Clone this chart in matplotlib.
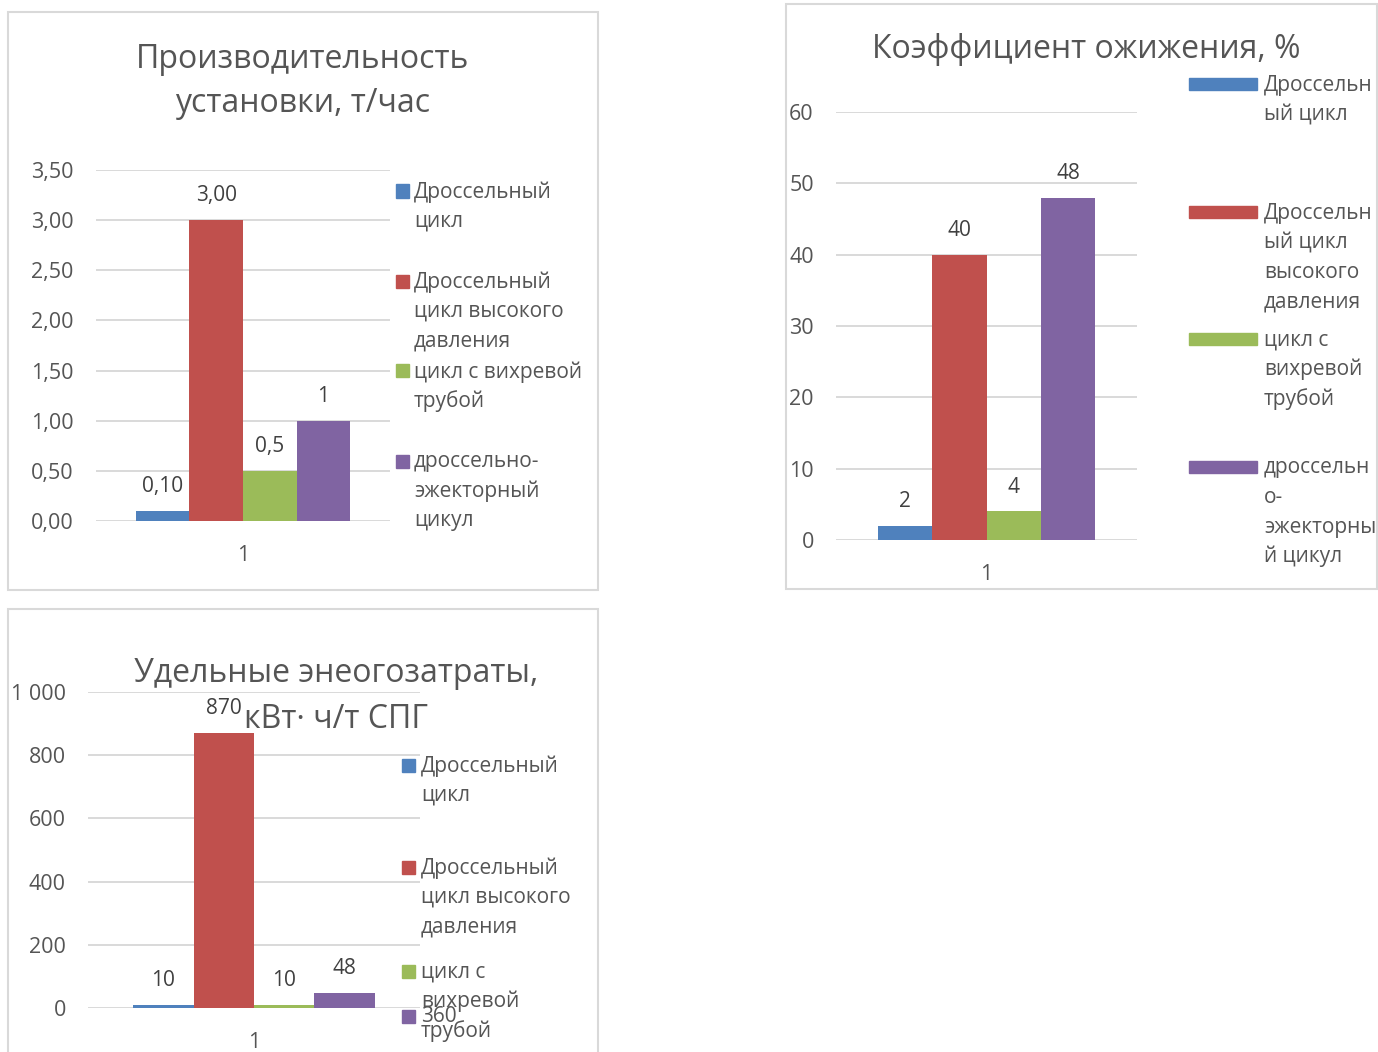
import numpy as np
import matplotlib
matplotlib.use('Agg')
import matplotlib.pyplot as plt
from matplotlib.patches import Rectangle

plt.rcParams['font.family'] = ['Open Sans', 'DejaVu Sans']

W, H = 1378, 1052

# Data
colors = ['#4F81BD', '#C0504D', '#9BBB59', '#8064A2']

prod_values = [0.10, 3.00, 0.5, 1]
prod_labels = ['0,10', '3,00', '0,5', '1']
prod_ticks = [0, 0.5, 1.0, 1.5, 2.0, 2.5, 3.0, 3.5]
prod_ticklabels = ['0,00', '0,50', '1,00', '1,50', '2,00', '2,50', '3,00', '3,50']
prod_legend = ['Дроссельный\nцикл', 'Дроссельный\nцикл высокого\nдавления',
               'цикл с вихревой\nтрубой', 'дроссельно-\nэжекторный\nцикул']

liq_values = [2, 40, 4, 48]
liq_labels = ['2', '40', '4', '48']
liq_ticks = [0, 10, 20, 30, 40, 50, 60]
liq_ticklabels = ['0', '10', '20', '30', '40', '50', '60']
liq_legend = ['Дроссельн\nый цикл', 'Дроссельн\nый цикл\nвысокого\nдавления',
              'цикл с\nвихревой\nтрубой', 'дроссельн\nо-\nэжекторны\nй цикул']

en_values = [10, 870, 10, 48]
en_labels = ['10', '870', '10', '48']
en_ticks = [0, 200, 400, 600, 800, 1000]
en_ticklabels = ['0', '200', '400', '600', '800', '1 000']
en_legend = ['Дроссельный\nцикл', 'Дроссельный\nцикл высокого\nдавления',
             'цикл с\nвихревой\nтрубой', '360']

TXT = '#555555'
LBL = '#404040'
GRID = '#D9D9D9'


def fx(x):
    return x / W


def fy(y):
    return 1 - y / H


fig = plt.figure(figsize=(W / 100, H / 100), dpi=100)


def panel(x0, y0, x1, y1):
    fig.patches.append(Rectangle((fx(x0), fy(y1)), fx(x1 - x0), (y1 - y0) / H,
                                 transform=fig.transFigure, fill=False,
                                 edgecolor=GRID, lw=1.5))


def chart(left, right, top, bottom, values, labels, ticks, ticklabels, bw):
    ax = fig.add_axes([fx(left), fy(bottom), fx(right - left), (bottom - top) / H])
    ax.set_xlim(-0.5, 0.5)
    ax.set_ylim(0, ticks[-1])
    for i, v in enumerate(values):
        x = (i - 1.5) * bw
        ax.bar(x, v, width=bw, color=colors[i], zorder=2)
        ax.annotate(labels[i], (x, v), xytext=(0, 17.5), textcoords='offset points',
                    ha='center', va='center', fontsize=15, color=LBL)
    ax.set_yticks(ticks)
    ax.set_yticklabels(ticklabels)
    ax.set_xticks([0])
    ax.set_xticklabels(['1'])
    ax.tick_params(axis='y', length=0, pad=16, labelsize=15.5, labelcolor=TXT)
    ax.tick_params(axis='x', length=0, pad=17, labelsize=15.5, labelcolor=TXT)
    ax.yaxis.grid(True, color=GRID, lw=1.4, zorder=0)
    ax.set_axisbelow(True)
    for s in ax.spines.values():
        s.set_visible(False)
    ax.patch.set_alpha(0)
    return ax


def legend(labels, xm, wm, hm, xt, ys, step=29.5):
    for i, lab in enumerate(labels):
        y = ys[i]
        fig.patches.append(Rectangle((fx(xm), fy(y + hm / 2)), fx(wm), hm / H,
                                     transform=fig.transFigure, color=colors[i]))
        for j, line in enumerate(lab.split('\n')):
            fig.text(fx(xt), fy(y + 1 + j * step), line, ha='left', va='center',
                     fontsize=15, color=TXT)


def title(x, ys, lines):
    for y, line in zip(ys, lines):
        fig.text(fx(x), fy(y + 2), line, ha='center', va='center', fontsize=23, color=TXT)


# Panel 1: productivity
panel(8, 12, 598, 590)
chart(96, 390, 170, 521, prod_values, prod_labels, prod_ticks, prod_ticklabels, 0.182)
title(303, [57, 101], ['Производительность', 'установки, т/час'])
legend(prod_legend, 396, 13, 13, 414, [191, 281, 371, 461])

# Panel 2: liquefaction coefficient
panel(786, 4, 1377, 589)
chart(836, 1137, 112, 540, liq_values, liq_labels, liq_ticks, liq_ticklabels, 0.181)
title(1086, [48], ['Коэффициент ожижения, %'])
legend(liq_legend, 1189, 68, 12, 1264, [84, 212, 339, 467])

# Panel 3: specific energy consumption
panel(8, 609, 598, 1060)
chart(88, 420, 692, 1008, en_values, en_labels, en_ticks, en_ticklabels, 0.182)
title(336, [671, 717], ['Удельные энеогозатраты,', 'кВт· ч/т СПГ'])
legend(en_legend, 402, 13, 13, 421, [765, 867, 971, 1016])

fig.savefig('out.png', dpi=100, facecolor='white')
